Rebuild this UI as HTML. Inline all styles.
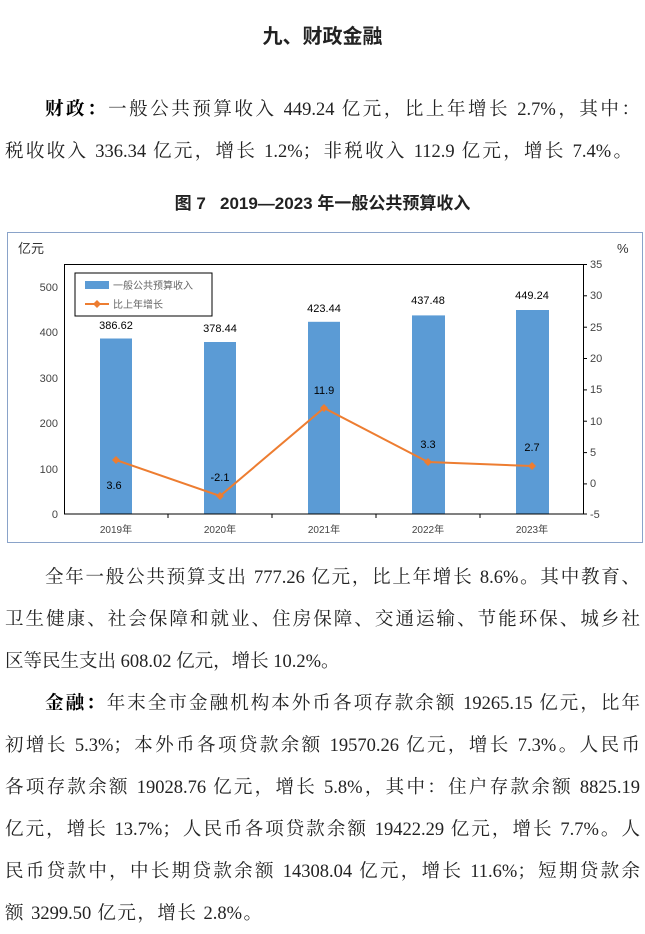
<!DOCTYPE html>
<html><head><meta charset="utf-8"><style>
body{margin:0;width:645px;height:934px;background:#fff;position:relative;overflow:hidden;font-family:"Liberation Serif","Noto Serif CJK SC",serif;color:#222;}
.l{position:absolute;left:5px;width:635px;font-size:18.5px;line-height:24px;white-space:nowrap;}
.j{text-align:justify;text-align-last:justify;}
b{font-weight:bold;color:#000}
</style></head><body>
<div style="position:absolute;left:0;width:645px;top:20px;text-align:center;font-size:20px;font-weight:bold;font-family:'Liberation Sans','Noto Sans CJK SC',sans-serif;">九、财政金融</div>
<div class="l j" style="top:98px;left:45px;width:595px"><b>财政：</b>一般公共预算收入 449.24 亿元，比上年增长 2.7%，其中：</div>
<div class="l j" style="top:140px;width:627px">税收收入 336.34 亿元，增长 1.2%；非税收入 112.9 亿元，增长 7.4%。</div>
<div style="position:absolute;left:0;width:645px;top:189px;text-align:center;font-size:17px;font-weight:bold;font-family:'Liberation Sans','Noto Sans CJK SC',sans-serif;">图 7&nbsp;&nbsp;&nbsp;2019—2023 年一般公共预算收入</div>
<svg style="position:absolute;left:0;top:0" width="645" height="934" font-family="Liberation Sans,Noto Sans CJK SC,sans-serif">
<rect x="7.5" y="232.5" width="635" height="310" fill="#fff" stroke="#8aa3c9" stroke-width="1"/>
<text x="18" y="253" font-size="13" fill="#333">亿元</text>
<text x="617" y="253" font-size="13" fill="#333">%</text>
<g fill="#5b9bd5">
<rect x="100" y="338.5" width="32" height="175.5"/>
<rect x="204" y="342" width="32" height="172"/>
<rect x="308" y="321.8" width="32" height="192.2"/>
<rect x="412" y="315.4" width="33" height="198.6"/>
<rect x="516" y="310" width="33" height="204"/>
</g>
<rect x="64.5" y="264.5" width="519" height="249.5" fill="none" stroke="#000" stroke-width="1"/>
<g stroke="#000"><line x1="168" y1="514" x2="168" y2="518"/><line x1="272" y1="514" x2="272" y2="518"/><line x1="376" y1="514" x2="376" y2="518"/><line x1="480" y1="514" x2="480" y2="518"/>
<line x1="583" y1="264.5" x2="587" y2="264.5"/><line x1="583" y1="295.8" x2="587" y2="295.8"/><line x1="583" y1="327.2" x2="587" y2="327.2"/><line x1="583" y1="358.5" x2="587" y2="358.5"/><line x1="583" y1="389.9" x2="587" y2="389.9"/><line x1="583" y1="421.2" x2="587" y2="421.2"/><line x1="583" y1="452.6" x2="587" y2="452.6"/><line x1="583" y1="483.9" x2="587" y2="483.9"/><line x1="583" y1="514" x2="587" y2="514"/></g>
<g font-size="11" fill="#444" text-anchor="end">
<text x="58" y="518">0</text><text x="58" y="473">100</text><text x="58" y="427">200</text><text x="58" y="382">300</text><text x="58" y="336">400</text><text x="58" y="291">500</text></g>
<g font-size="11" fill="#444">
<text x="590" y="268">35</text><text x="590" y="299">30</text><text x="590" y="331">25</text><text x="590" y="362">20</text><text x="590" y="393">15</text><text x="590" y="425">10</text><text x="590" y="456">5</text><text x="590" y="487">0</text><text x="590" y="518">-5</text></g>
<g font-size="10" fill="#444" text-anchor="middle">
<text x="116" y="533">2019年</text><text x="220" y="533">2020年</text><text x="324" y="533">2021年</text><text x="428" y="533">2022年</text><text x="532" y="533">2023年</text></g>
<g font-size="11" fill="#000" text-anchor="middle">
<text x="116" y="329">386.62</text><text x="220" y="332">378.44</text><text x="324" y="312">423.44</text><text x="428" y="304">437.48</text><text x="532" y="299">449.24</text>
<text x="114" y="489">3.6</text><text x="220" y="481">-2.1</text><text x="324" y="394">11.9</text><text x="428" y="448">3.3</text><text x="532" y="451">2.7</text></g>
<polyline points="116,460 220,496 324,408 428,462 532,466" fill="none" stroke="#ed7d31" stroke-width="2"/>
<g fill="#ed7d31"><path d="M116,456l4,4-4,4-4-4z"/><path d="M220,492l4,4-4,4-4-4z"/><path d="M324,404l4,4-4,4-4-4z"/><path d="M428,458l4,4-4,4-4-4z"/><path d="M532,462l4,4-4,4-4-4z"/></g>
<rect x="75" y="273" width="137" height="43" fill="#fff" stroke="#000"/>
<rect x="85" y="281" width="24" height="8" fill="#5b9bd5"/>
<text x="113" y="289" font-size="10" fill="#666">一般公共预算收入</text>
<line x1="85" y1="304" x2="109" y2="304" stroke="#ed7d31" stroke-width="2"/><path d="M97,300l4,4-4,4-4-4z" fill="#ed7d31"/>
<text x="113" y="308" font-size="10" fill="#666">比上年增长</text>
</svg>
<div class="l j" style="top:566px;left:45px;width:595px">全年一般公共预算支出 777.26 亿元，比上年增长 8.6%。其中教育、</div>
<div class="l j" style="top:608px">卫生健康、社会保障和就业、住房保障、交通运输、节能环保、城乡社</div>
<div class="l j" style="top:650px;width:334px">区等民生支出 608.02 亿元，增长 10.2%。</div>
<div class="l j" style="top:692px;left:45px;width:595px"><b>金融：</b>年末全市金融机构本外币各项存款余额 19265.15 亿元，比年</div>
<div class="l j" style="top:734px">初增长 5.3%；本外币各项贷款余额 19570.26 亿元，增长 7.3%。人民币</div>
<div class="l j" style="top:776px">各项存款余额 19028.76 亿元，增长 5.8%，其中：住户存款余额 8825.19</div>
<div class="l j" style="top:818px">亿元，增长 13.7%；人民币各项贷款余额 19422.29 亿元，增长 7.7%。人</div>
<div class="l j" style="top:860px">民币贷款中，中长期贷款余额 14308.04 亿元，增长 11.6%；短期贷款余</div>
<div class="l j" style="top:902px;width:257px">额 3299.50 亿元，增长 2.8%。</div>
</body></html>
